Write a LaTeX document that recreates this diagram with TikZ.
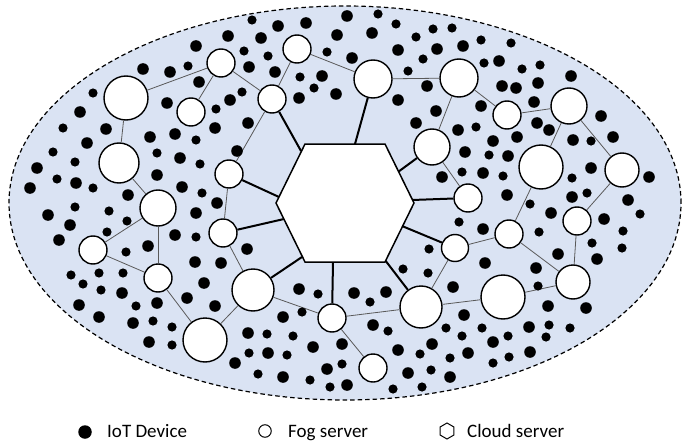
\documentclass[tikz,border=0pt]{standalone}
\usepackage{fontspec}
\setmainfont{Carlito}
\usetikzlibrary{shapes.geometric}
\definecolor{ellfill}{RGB}{218,227,243}
\begin{document}
\begin{tikzpicture}[x=1pt,y=-1pt,
  fog/.style={circle,draw=black,fill=white,line width=1.4pt,inner sep=0pt},
  link/.style={draw=black!65,line width=0.8pt},
  spoke/.style={draw=black,line width=2pt},
  legtext/.style={anchor=base west,inner sep=0pt,font=\fontsize{19}{22}\selectfont}]
\useasboundingbox (0,0) rectangle (693,441);
% region
\draw[fill=ellfill,draw=black,line width=1.2pt,dash pattern=on 4.5pt off 3pt]
  (345,203) ellipse [x radius=336pt, y radius=197pt];
% fog servers
\node[fog,minimum size=44pt] (A) at (126,98) {};
\node[fog,minimum size=28pt] (B) at (221,63) {};
\node[fog,minimum size=28pt] (C) at (191,112) {};
\node[fog,minimum size=28pt] (D) at (297,49) {};
\node[fog,minimum size=28pt] (E) at (272,99) {};
\node[fog,minimum size=38pt] (F) at (373,79) {};
\node[fog,minimum size=38pt] (G) at (459,78) {};
\node[fog,minimum size=28pt] (H) at (507,115) {};
\node[fog,minimum size=36pt] (I) at (569,106) {};
\node[fog,minimum size=36pt] (J) at (432,147) {};
\node[fog,minimum size=44pt] (K) at (541,167) {};
\node[fog,minimum size=34pt] (L) at (622,170) {};
\node[fog,minimum size=40pt] (M) at (119,163) {};
\node[fog,minimum size=36pt] (N) at (158,208) {};
\node[fog,minimum size=28pt] (O) at (229,174) {};
\node[fog,minimum size=28pt] (P) at (93,250) {};
\node[fog,minimum size=28pt] (Q) at (158,278) {};
\node[fog,minimum size=28pt] (R) at (223,233) {};
\node[fog,minimum size=44pt] (S) at (205,340) {};
\node[fog,minimum size=42pt] (T) at (253,290) {};
\node[fog,minimum size=28pt] (U) at (332,318) {};
\node[fog,minimum size=28pt] (V) at (373,368) {};
\node[fog,minimum size=42pt] (W) at (421,307) {};
\node[fog,minimum size=27pt] (X) at (455,248) {};
\node[fog,minimum size=28pt] (Y) at (468,198) {};
\node[fog,minimum size=28pt] (Z) at (509,234) {};
\node[fog,minimum size=28pt] (AA) at (577,221) {};
\node[fog,minimum size=44pt] (AB) at (503,297) {};
\node[fog,minimum size=34pt] (AC) at (573,282) {};
% thin links between fog servers
\foreach \a/\b in {A/B,B/C,A/M,M/N,B/E,D/E,D/F,F/G,E/O,G/J,G/H,H/I,I/K,I/L,K/Z,L/AA,
  N/P,P/Q,N/Q,Q/S,S/T,O/R,R/T,T/U,U/V,U/W,W/AB,W/X,X/Z,Z/AC,AA/AC,AB/AC,J/Y}
  \draw[link] (\a) -- (\b);
% cloud server outline points
\coordinate (h1) at (305,144);
\coordinate (h2) at (385,144);
\coordinate (h3) at (414,203);
\coordinate (h4) at (385,262);
\coordinate (h5) at (305,262);
\coordinate (h6) at (276,203);
% spoke ends on the hexagon
\coordinate (sE) at (301,151);
\coordinate (sF) at (355,144);
\coordinate (sJ) at (398,172);
\coordinate (sO) at (279,197);
\coordinate (sR) at (284,219);
\coordinate (sT) at (302,257);
\coordinate (sU) at (333,262);
\coordinate (sW) at (385,260);
\coordinate (sX) at (402,226);
\coordinate (sY) at (412,200);
\foreach \f in {E,F,J,O,R,T,U,W,X,Y}
  \draw[spoke] (\f) -- (s\f);
\draw[fill=white,draw=black,line width=1.5pt,line join=miter]
  (h1) -- (h2) -- (h3) -- (h4) -- (h5) -- (h6) -- cycle;
% IoT devices (large)
\foreach \x/\y in {228/36,196/46,143/69,170/72,199/82,80/112,167/103,230/100,106/129,150/137,
  175/134,215/128,87/143,180/158,237/151,37/168,76/183,30/188,157/175,182/187,128/195,
  278/26,306/23,347/16,261/38,337/35,372/33,352/58,398/50,437/49,249/67,275/72,322/76,
  336/94,299/98,427/86,248/123,398/100,436/111,416/123,442/177,
  463/46,499/61,571/76,502/86,516/88,538/83,534/102,481/106,601/116,458/130,537/123,
  549/130,613/137,517/137,493/141,573/140,465/152,508/156,483/173,591/168,649/177,507/195,572/197,
  48/215,70/225,59/240,148/246,175/235,217/203,196/213,122/293,195/262,221/263,204/283,
  79/305,157/303,187/298,215/306,99/317,133/323,149/342,235/363,
  247/249,299/289,354/293,386/292,283/317,373/325,453/287,248/333,313/347,342/344,
  268/353,327/369,283/377,347/385,398/350,432/344,408/373,450/377,
  551/213,628/200,604/219,597/259,483/229,558/254,485/263,536/268,548/306,586/308,
  464/315,529/327,493/342,468/353,530/352}
  \fill (\x,\y) circle[radius=5.8pt];
% IoT devices (small)
\foreach \x/\y in {188/66,93/93,216/109,63/128,196/140,53/152,157/153,200/164,75/162,57/179,93/188,202/193,
  252/20,378/14,396/24,416/37,433/29,452/28,244/51,268/56,327/52,423/59,300/77,314/88,408/71,242/92,
  481/40,511/43,484/63,522/69,540/65,476/127,591/141,489/155,462/172,503/176,572/178,587/193,
  75/207,109/211,127/221,107/232,126/252,196/237,71/275,99/273,123/273,83/284,101/290,136/306,
  153/321,172/327,172/345,
  318/294,370/302,302/312,388/331,429/249,403/269,428/273,267/334,293/336,249/353,287/355,
  342/364,258/374,310/380,330/387,420/354,446/328,450/358,431/370,393/389,422/387,
  530/204,640/214,623/231,622/248,592/243,459/222,539/232,538/286,482/328,549/325,570/328,
  508/336,546/337,509/357,493/363,462/336}
  \fill (\x,\y) circle[radius=4.6pt];
% legend
\node[circle,fill=black,inner sep=0pt,minimum size=13.5pt] (ldot) at (85,432) {};
\node[legtext] (ltiot) at (107,437.5) {IoT Device};
\node[circle,draw=black,fill=white,line width=1pt,inner sep=0pt,minimum size=12.5pt] (lfog) at (265,431) {};
\node[legtext] (ltfog) at (288,437.5) {Fog server};
\node[regular polygon,regular polygon sides=6,shape border rotate=30,draw=black,line width=1pt,
  inner sep=0pt,minimum size=16pt] (lhex) at (447,431) {};
\node[legtext] (ltcloud) at (467,437.5) {Cloud server};
\end{tikzpicture}
\end{document}
